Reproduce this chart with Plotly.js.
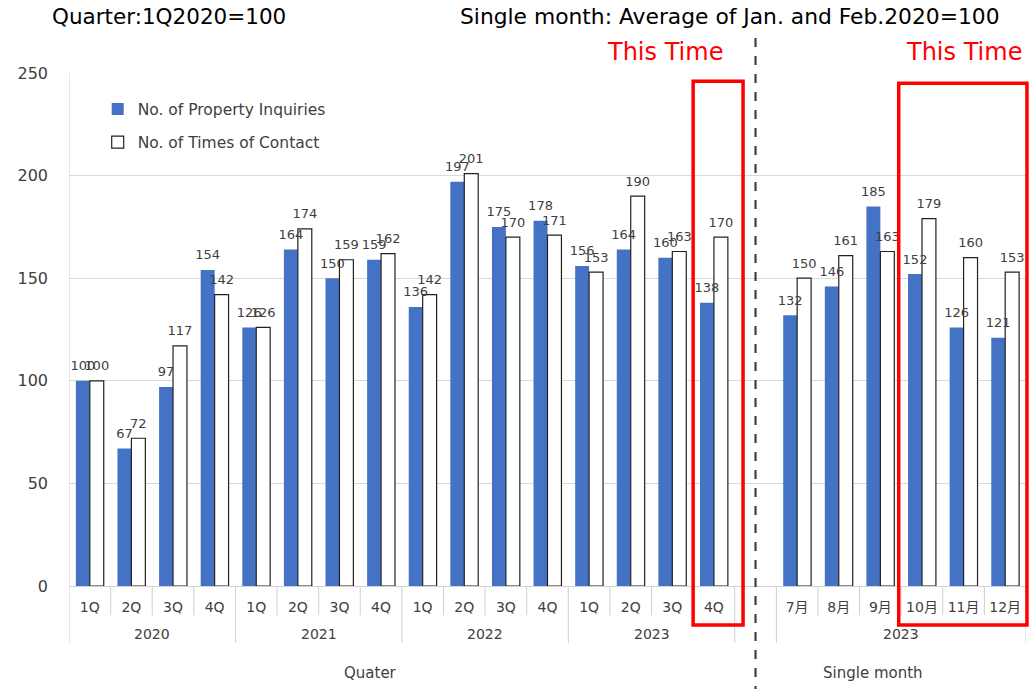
<!DOCTYPE html>
<html>
<head>
<meta charset="utf-8">
<script src="https://cdn.plot.ly/plotly-3.0.1.min.js"></script>
<style>html,body{margin:0;padding:0;background:#fff;}#chart{width:1036px;height:689px;}</style>
</head>
<body>
<div id="chart"></div>
<script>
// ---- data ----
const tickLabels = ["1Q","2Q","3Q","4Q","1Q","2Q","3Q","4Q","1Q","2Q","3Q","4Q","1Q","2Q","3Q","4Q","","7月","8月","9月","10月","11月","12月"];
const inquiries = [100,67,97,154,126,164,150,159,136,197,175,178,156,164,160,138,null,132,146,185,152,126,121];
const contacts  = [100,72,117,142,126,174,159,162,142,201,170,171,153,190,163,170,null,150,161,163,179,160,153];
const groupLabels = ["2020","2021","2022","2023","2023"];
const groupCenters = [1.5,5.5,9.5,13.5,19.5];
const groupBounds = [-0.5,3.5,7.5,11.5,15.5,16.5,22.5];
const sectionLabels = ["Quater","Single month"];
const sectionCenters = [6.74,18.83];

const FONT = "DejaVu Sans, Noto Sans CJK JP, sans-serif";
const xs = tickLabels.map((_, i) => i);
const BAR_GAP = 0.33;
const half = (1 - BAR_GAP) / 4; // centre offset of each bar within the group

const traceA = {
  type: 'bar', name: 'No. of Property Inquiries', x: xs, y: inquiries,
  legendgroup: 'a',
  marker: {color: '#4472C4'}, hoverinfo: 'y'
};
const traceB = {
  type: 'bar', name: 'No. of Times of Contact', x: xs, y: contacts,
  legendgroup: 'b',
  marker: {color: '#ffffff', line: {color: '#222222', width: 1.2}}, hoverinfo: 'y'
};
// value labels drawn above all bars (invisible marker lifts the text a little)
const labelA = {
  type: 'scatter', mode: 'markers+text', x: xs.map(i => i - half), y: inquiries,
  marker: {size: 10, opacity: 0},
  text: inquiries.map(v => v == null ? '' : String(v)), textposition: 'top center',
  textfont: {family: FONT, size: 13, color: '#404040'}, showlegend: false, cliponaxis: false, hoverinfo: 'skip'
};
const labelB = {
  type: 'scatter', mode: 'markers+text', x: xs.map(i => i + half), y: contacts,
  marker: {size: 10, opacity: 0},
  text: contacts.map(v => v == null ? '' : String(v)), textposition: 'top center',
  textfont: {family: FONT, size: 13, color: '#404040'}, showlegend: false, cliponaxis: false, hoverinfo: 'skip'
};

const shapes = [];
// short dividers between ticks
for (let i = 0; i < tickLabels.length - 1; i++) {
  const b = i + 0.5;
  if (groupBounds.indexOf(b) >= 0) continue;
  shapes.push({type:'line', xref:'x', yref:'paper', x0:b, x1:b, y0:0, y1:-0.057, line:{color:'#d0d0d0', width:1}});
}
groupBounds.forEach(b => {
  shapes.push({type:'line', xref:'x', yref:'paper', x0:b, x1:b, y0:(b===-0.5?1:0), y1:-0.111, line:{color:'#d0d0d0', width:1}});
});
// dashed separator
shapes.push({type:'line', xref:'x', yref:'paper', x0:16, x1:16, y0:1.068, y1:-0.21, line:{color:'#404040', width:2.2, dash:'dash'}});
// red boxes
shapes.push({type:'rect', xref:'x', yref:'paper', x0:14.5, x1:15.7, y0:0.984, y1:-0.076, line:{color:'#ff0000', width:3.5}});
shapes.push({type:'rect', xref:'paper', yref:'paper', x0:0.867, x1:1.001, y0:0.98, y1:-0.076, line:{color:'#ff0000', width:3.5}});

const annotations = [];
groupLabels.forEach((g, i) => annotations.push({
  xref:'x', yref:'paper', x:groupCenters[i], y:-0.093, text:g, showarrow:false,
  yanchor:'middle', font:{family:FONT, size:14, color:'#404040'}
}));
sectionLabels.forEach((s, i) => annotations.push({
  xref:'x', yref:'paper', x:sectionCenters[i], y:-0.17, text:s, showarrow:false,
  yanchor:'middle', font:{family:FONT, size:15, color:'#404040'}
}));
annotations.push({xref:'paper', yref:'paper', x:-0.02, y:1.11, xanchor:'left', yanchor:'middle', text:'Quarter:1Q2020=100', showarrow:false, font:{family:FONT, size:21.5, color:'#000'}});
annotations.push({xref:'paper', yref:'paper', x:0.975, y:1.11, xanchor:'right', yanchor:'middle', text:'Single month: Average of Jan. and Feb.2020=100', showarrow:false, font:{family:FONT, size:21.8, color:'#000'}});
annotations.push({xref:'x', yref:'paper', x:13.83, y:1.04, xanchor:'center', yanchor:'middle', text:'This Time', showarrow:false, font:{family:FONT, size:24, color:'#ff0000'}});
annotations.push({xref:'paper', yref:'paper', x:0.935, y:1.04, xanchor:'center', yanchor:'middle', text:'This Time', showarrow:false, font:{family:FONT, size:24, color:'#ff0000'}});

const layout = {
  width: 1036, height: 689,
  margin: {l: 69, r: 10, t: 73, b: 103},
  paper_bgcolor: '#fff', plot_bgcolor: '#fff',
  font: {family: FONT, color: '#404040'},
  barmode: 'group', bargap: BAR_GAP, bargroupgap: 0,
  showlegend: true,
  legend: {x: 0.03, y: 0.962, xanchor:'left', yanchor:'top', bgcolor:'rgba(0,0,0,0)', traceorder:'grouped', font:{family:FONT, size:15.5, color:'#404040'}, tracegroupgap: 10, itemwidth: 30},
  xaxis: {
    range: [-0.5, 22.5], tickmode: 'array', tickvals: xs, ticktext: tickLabels,
    ticks: '', showgrid: false, zeroline: false, showline: true, linecolor: '#d0d0d0',
    tickfont: {family: FONT, size: 14, color: '#404040'}, ticklabelstandoff: 8, fixedrange: true
  },
  yaxis: {
    range: [0, 250], tickvals: [0,50,100,150,200,250], ticks: '',
    showgrid: true, gridcolor: '#d9d9d9', zeroline: false, showline: false,
    tickfont: {family: FONT, size: 16, color: '#404040'}, ticklabelstandoff: 20, fixedrange: true
  },
  shapes: shapes, annotations: annotations
};

Plotly.newPlot('chart', [traceA, traceB, labelA, labelB], layout, {displayModeBar: false, staticPlot: true});
</script>
</body>
</html>
